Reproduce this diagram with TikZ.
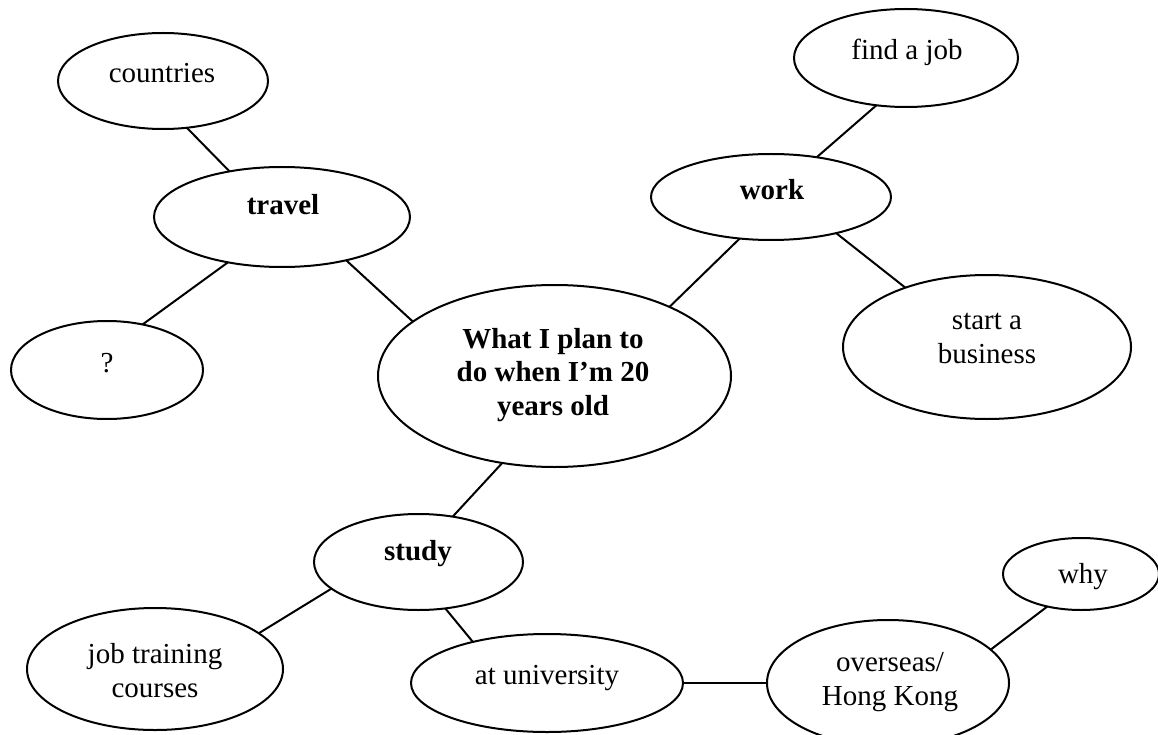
\documentclass[tikz,border=0pt]{standalone}
\usepackage{fontspec}
\setmainfont{Liberation Serif}
\usetikzlibrary{shapes.geometric}
\begin{document}
\begin{tikzpicture}[x=1pt,y=-1pt,
  bub/.style={draw, ellipse, line width=2pt, inner sep=0pt, outer sep=0pt},
  conn/.style={line width=2pt},
  lbl/.style={font=\fontsize{29}{33.5}\selectfont, align=center, anchor=base, inner sep=0pt},
  blbl/.style={lbl, font=\fontsize{29}{33.5}\selectfont\bfseries}]
\useasboundingbox (0,0) rectangle (1158,735);
% ellipses
\node[bub, minimum width=210, minimum height=96]  (countries) at (163,81) {};
\node[bub, minimum width=256, minimum height=100] (travel)    at (282,217) {};
\node[bub, minimum width=192, minimum height=98]  (q)         at (107,370) {};
\node[bub, minimum width=353, minimum height=182] (main)      at (554.5,376) {};
\node[bub, minimum width=224, minimum height=98]  (find)      at (906,58) {};
\node[bub, minimum width=240, minimum height=86]  (work)      at (771,197) {};
\node[bub, minimum width=288, minimum height=144] (business)  at (987,347) {};
\node[bub, minimum width=209, minimum height=96]  (study)     at (418.5,562) {};
\node[bub, minimum width=156, minimum height=72]  (why)       at (1081,574) {};
\node[bub, minimum width=256, minimum height=122] (job)       at (155,669) {};
\node[bub, minimum width=272, minimum height=98]  (uni)       at (547,683) {};
\node[bub, minimum width=242, minimum height=126] (overseas)  at (888,683) {};
% texts (anchor base = baseline of the last line)
\node[lbl]  (countriesT) at (162,83)  {countries};
\node[blbl] (travelT)    at (283,215) {travel};
\node[lbl]  (qT)         at (107,372) {?};
\node[blbl] (mainT)      at (553,415) {What I plan to\\do when I’m 20\\years old};
\node[lbl]  (findT)      at (907,60)  {find a job};
\node[blbl] (workT)      at (772,200) {work};
\node[lbl]  (businessT)  at (987,363) {start a\\business};
\node[blbl] (studyT)     at (418,560) {study};
\node[lbl]  (whyT)       at (1083,583) {why};
\node[lbl]  (jobT)       at (155,697) {job training\\courses};
\node[lbl]  (uniT)       at (547,684) {at university};
\node[lbl]  (overseasT)  at (890,705) {overseas/\\Hong Kong};
% connectors
\draw[conn] (countries.-63.9) -- (travel.139.1);
\draw[conn] (travel.220.9) -- (q.52.7);
\draw[conn] (travel.-34.3) -- (main.159.1);
\draw[conn] (main.31.7) -- (work.233.6);
\draw[conn] (work.41.6) -- (find.238.9);
\draw[conn] (work.-29.6) -- (business.144.5);
\draw[conn] (main.239.2) -- (study.53.7);
\draw[conn] (study.197.9) -- (job.19.8);
\draw[conn] (study.-60.6) -- (uni.151);
\draw[conn] (uni.east) -- (overseas.west);
\draw[conn] (overseas.18.4) -- (why.224.1);
\end{tikzpicture}
\end{document}
